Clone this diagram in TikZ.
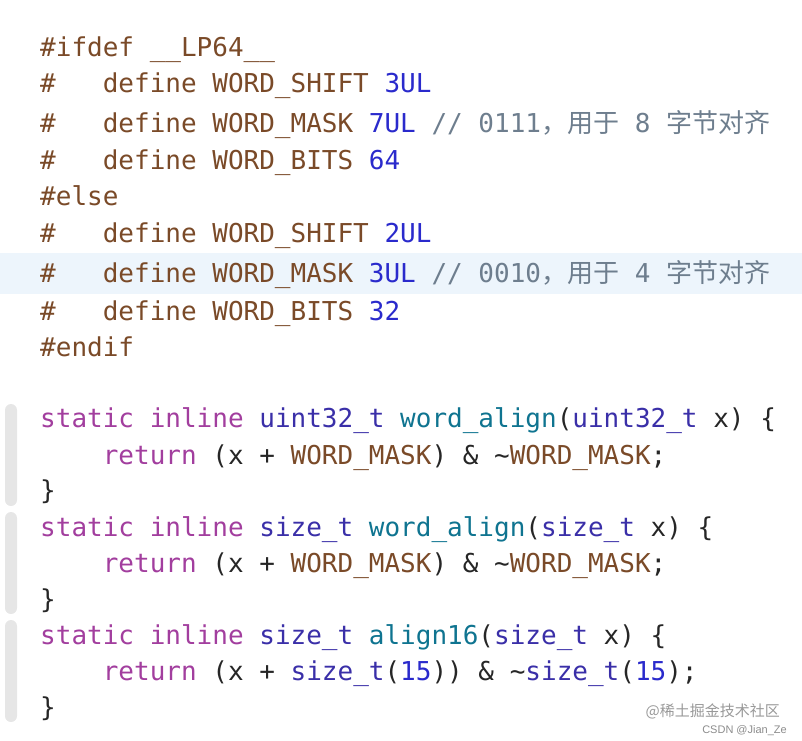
\documentclass[tikz,border=0pt]{standalone}
\usepackage{fontspec}
\setmonofont{DejaVu Sans Mono}
\newfontfamily\cjk{Noto Sans CJK SC}
\newfontfamily\wmfont{Liberation Sans}
\definecolor{dir}{HTML}{7A4A28}
\definecolor{num}{HTML}{2A2ACC}
\definecolor{cmt}{HTML}{6E7E8E}
\definecolor{kw}{HTML}{A23E9E}
\definecolor{ty}{HTML}{3A2FA8}
\definecolor{fn}{HTML}{0F7490}
\definecolor{hl}{HTML}{EDF5FC}
\definecolor{bar}{HTML}{E6E6E6}
\newcommand{\D}[1]{\textcolor{dir}{#1}}
\newcommand{\N}[1]{\textcolor{num}{#1}}
\newcommand{\C}[1]{\textcolor{cmt}{#1}}
\newcommand{\K}[1]{\textcolor{kw}{#1}}
\newcommand{\T}[1]{\textcolor{ty}{#1}}
\newcommand{\F}[1]{\textcolor{fn}{#1}}
\begin{document}
\begin{tikzpicture}[x=1pt,y=-1pt,
  code/.style={anchor=base west,inner sep=0pt,font=\ttfamily\fontsize{26}{26}\selectfont,text=black!85},
  gbar/.style={fill=bar,rounded corners=6pt}]
\useasboundingbox (0,0) rectangle (802,740);
\fill[hl] (0,253) rectangle (802,294);
\fill[gbar] (5,404) rectangle (17,506);
\fill[gbar] (5,512) rectangle (17,614);
\fill[gbar] (5,620) rectangle (17,722);
\node[code] (l1) at (40,56) {\D{\#ifdef \_\_LP64\_\_}};
\node[code] (l2) at (40,92) {\D{\#\ \ \ define WORD\_SHIFT} \N{3UL}};
\node[code] (l3) at (40,132) {\D{\#\ \ \ define WORD\_MASK} \N{7UL} \C{// 0111{\cjk，用于} 8 {\cjk 字节对齐}}};
\node[code] (l4) at (40,169) {\D{\#\ \ \ define WORD\_BITS} \N{64}};
\node[code] (l5) at (40,205) {\D{\#else}};
\node[code] (l6) at (40,242) {\D{\#\ \ \ define WORD\_SHIFT} \N{2UL}};
\node[code] (l7) at (40,282) {\D{\#\ \ \ define WORD\_MASK} \N{3UL} \C{// 0010{\cjk，用于} 4 {\cjk 字节对齐}}};
\node[code] (l8) at (40,320) {\D{\#\ \ \ define WORD\_BITS} \N{32}};
\node[code] (l9) at (40,356) {\D{\#endif}};
\node[code] (a1) at (40,427) {\K{static inline} \T{uint32\_t} \F{word\_align}(\T{uint32\_t} x) \{};
\node[code] (a2) at (40,464) {\ \ \ \ \K{return} (x + \D{WORD\_MASK}) \& \textasciitilde\D{WORD\_MASK};};
\node[code] (a3) at (40,499) {\}};
\node[code] (b1) at (40,536) {\K{static inline} \T{size\_t} \F{word\_align}(\T{size\_t} x) \{};
\node[code] (b2) at (40,572) {\ \ \ \ \K{return} (x + \D{WORD\_MASK}) \& \textasciitilde\D{WORD\_MASK};};
\node[code] (b3) at (40,608) {\}};
\node[code] (c1) at (40,644) {\K{static inline} \T{size\_t} \F{align16}(\T{size\_t} x) \{};
\node[code] (c2) at (40,680) {\ \ \ \ \K{return} (x + \T{size\_t}(\N{15})) \& \textasciitilde\T{size\_t}(\N{15});};
\node[code] (c3) at (40,716) {\}};
\node[anchor=base east,inner sep=0pt,text=black!40,font=\cjk\fontsize{15}{15}\selectfont] (w1) at (780,716) {@稀土掘金技术社区};
\node[anchor=base east,inner sep=0pt,text=black!45,font=\wmfont\fontsize{11}{11}\selectfont] (w2) at (787,733) {CSDN @Jian\_Ze};
\end{tikzpicture}
\end{document}
